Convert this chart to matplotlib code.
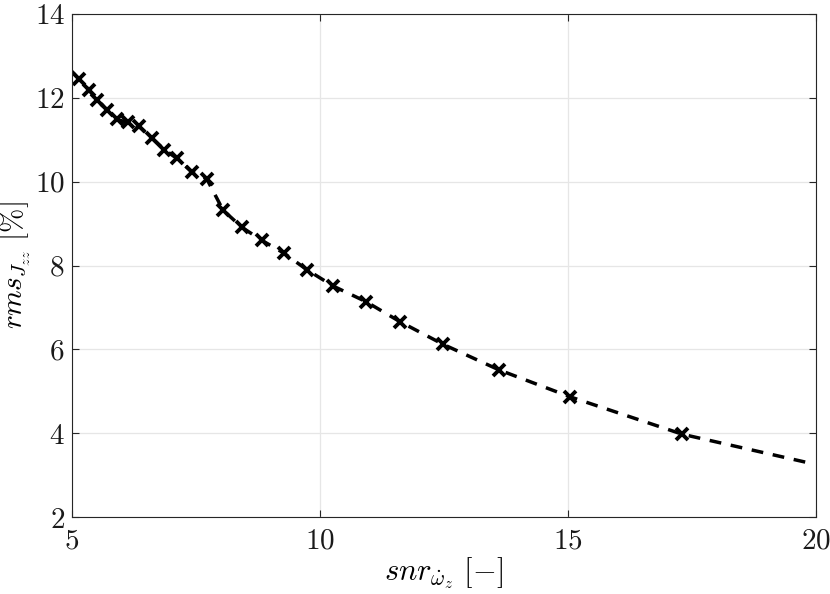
import matplotlib
matplotlib.use("Agg")
import matplotlib.pyplot as plt

# marker data
snr = [5.14, 5.34, 5.51, 5.71, 5.91, 6.13, 6.35, 6.61, 6.87, 7.12, 7.42, 7.72,
       8.05, 8.43, 8.83, 9.27, 9.74, 10.27, 10.93, 11.62, 12.49, 13.62, 15.05, 17.31]
rms = [12.45, 12.19, 11.95, 11.71, 11.48, 11.41, 11.32, 11.04, 10.76, 10.55, 10.23, 10.07,
       9.32, 8.91, 8.60, 8.30, 7.90, 7.51, 7.14, 6.66, 6.12, 5.51, 4.87, 3.98]
# line end points (no marker)
line_start = (5.0, 12.63)
line_end = (19.85, 3.30)

xticks = [5, 10, 15, 20]
yticks = [2, 4, 6, 8, 10, 12, 14]

plt.rcParams['mathtext.fontset'] = 'cm'
plt.rcParams['font.family'] = 'serif'
plt.rcParams['font.serif'] = ['cmr10', 'DejaVu Serif']
plt.rcParams['axes.formatter.use_mathtext'] = True

fig = plt.figure(figsize=(8.3, 5.94), dpi=100)
ax = fig.add_axes([0.0864, 0.129, 0.8966, 0.8480])

lx = [line_start[0]] + snr + [line_end[0]]
ly = [line_start[1]] + rms + [line_end[1]]
ax.plot(lx, ly, color='black', linestyle=(0, (3.4, 2.8)), linewidth=2.5)
ax.plot(snr, rms, linestyle='none', marker='x', color='black', markersize=8, markeredgewidth=2.8)

ax.set_xlim(5, 20)
ax.set_ylim(2, 14)
ax.set_xticks(xticks)
ax.set_yticks(yticks)
ax.set_xticklabels([f'${t}$' for t in xticks])
ax.set_yticklabels([f'${t}$' for t in yticks])
ax.tick_params(direction='in', length=5, width=0.8, top=True, right=True,
               labelsize=21, colors='#262626')
ax.tick_params(axis='x', pad=8)
ax.tick_params(axis='y', pad=5)
for lab in ax.get_xticklabels() + ax.get_yticklabels():
    lab.set_color('#1a1a1a')
ax.grid(True, color='#e6e6e6', linewidth=0.9)
ax.set_axisbelow(True)
for s in ax.spines.values():
    s.set_color('#262626')
    s.set_linewidth(0.8)

ax.set_xlabel(r'$snr_{\dot{\omega}_z}\ [-]$', fontsize=22, labelpad=0)
ax.set_ylabel(r'$rms_{J_{zz}}\ [\%]$', fontsize=21)
ax.yaxis.set_label_coords(-0.052, 0.5)

fig.savefig('out.png', dpi=100)
